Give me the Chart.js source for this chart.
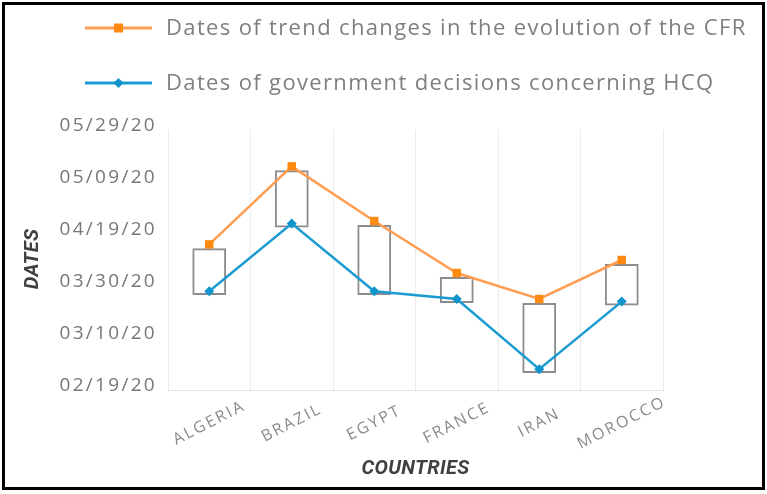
<!DOCTYPE html>
<html>
<head>
<meta charset="utf-8">
<script src="https://cdn.jsdelivr.net/npm/chart.js@4.4.0/dist/chart.umd.min.js"></script>
<style>
  html, body { margin: 0; padding: 0; background: #fff; }
  #wrap { position: relative; width: 767px; height: 494px; overflow: hidden; }
  #chart { position: absolute; left: 0; top: 0; }
  #frame { position: absolute; left: 2px; top: 2px; width: 763px; height: 488px;
           border: 3px solid #000; box-sizing: border-box; pointer-events: none; }
</style>
</head>
<body>
<div id="wrap">
  <canvas id="chart" width="767" height="494"></canvas>
  <div id="frame"></div>
</div>
<script>
// categories
const countries = ["ALGERIA", "BRAZIL", "EGYPT", "FRANCE", "IRAN", "MOROCCO"];

// series (dates)
const cfrTrendDates = ["2020-04-15", "2020-05-15", "2020-04-24", "2020-04-04", "2020-03-25", "2020-04-09"];
const hcqDecisionDates = ["2020-03-28", "2020-04-23", "2020-03-28", "2020-03-25", "2020-02-27", "2020-03-24"];

// the grey boxes between the two series
const boxStart = ["2020-03-26T12:00", "2020-04-21T12:00", "2020-03-26T12:00", "2020-03-23T12:00", "2020-02-25T12:00", "2020-03-22T12:00"];
const boxEnd = ["2020-04-13T12:00", "2020-05-13T12:00", "2020-04-22T12:00", "2020-04-02T12:00", "2020-03-23T12:00", "2020-04-07T12:00"];

// y axis ticks
const yTickDates = ["2020-02-19", "2020-03-10", "2020-03-30", "2020-04-19", "2020-05-09", "2020-05-29"];

const legendLabels = ["Dates of trend changes in the evolution of the CFR", "Dates of government decisions concerning HCQ"];
const xTitle = "COUNTRIES";
const yTitle = "DATES";

// date string -> ms (UTC so that DST never shifts a day)
function toMs(s) {
    return Date.parse(s.length > 10 ? s + ":00Z" : s + "T00:00:00Z");
}

function fmtDate(v) {
    const d = new Date(v);
    const p = n => String(n).padStart(2, "0");
    return p(d.getUTCMonth() + 1) + "/" + p(d.getUTCDate()) + "/" + p(d.getUTCFullYear() % 100);
}

const ORANGE_LINE = "#ff9d52";
const ORANGE_MARK = "#ff8a12";
const BLUE_LINE = "#1b9bd1";
const BLUE_MARK = "#1295cd";

// marker shapes shared by the legend
function drawMarker(ctx, style, x, y, color) {
    ctx.fillStyle = color;
    ctx.beginPath();
    if (style === "rect") {
        ctx.rect(x - 4.5, y - 4.5, 9, 9);
    } else {
        ctx.moveTo(x, y - 5);
        ctx.lineTo(x + 5, y);
        ctx.lineTo(x, y + 5);
        ctx.lineTo(x - 5, y);
        ctx.closePath();
    }
    ctx.fill();
}

// y tick labels are letter-spaced in the original
const spacing = {
    id: "spacing",
    beforeDraw(chart) { chart.ctx.letterSpacing = "2.3px"; },
    afterDatasetsDraw(chart) { chart.ctx.letterSpacing = "0px"; }
};

// legend, rotated country labels and axis titles
const extras = {
    id: "extras",
    afterDraw(chart) {
        const ctx = chart.ctx;
        const area = chart.chartArea;
        const x = chart.scales.x;

        ctx.save();

        // legend
        const marks = [
            { line: ORANGE_LINE, mark: ORANGE_MARK, style: "rect" },
            { line: BLUE_LINE, mark: BLUE_MARK, style: "rectRot" }
        ];
        ctx.font = '22px "Open Sans"';
        ctx.letterSpacing = "1.35px";
        ctx.textBaseline = "middle";
        ctx.textAlign = "left";
        legendLabels.forEach((txt, i) => {
            const y = 28 + i * 55;
            ctx.strokeStyle = marks[i].line;
            ctx.lineWidth = 3;
            ctx.beginPath();
            ctx.moveTo(85, y);
            ctx.lineTo(152, y);
            ctx.stroke();
            drawMarker(ctx, marks[i].style, 118.5, y, marks[i].mark);
            ctx.fillStyle = "#7f7f7f";
            ctx.fillText(txt, 166, y + 1);
        });

        // country labels, centred on the category and tilted
        ctx.font = '16px "Open Sans"';
        ctx.letterSpacing = "2.2px";
        ctx.fillStyle = "#8a8a8a";
        ctx.textAlign = "center";
        x.ticks.forEach((t, i) => {
            ctx.save();
            ctx.translate(x.getPixelForTick(i), area.bottom + 33);
            ctx.rotate(-27 * Math.PI / 180);
            ctx.fillText(countries[i], 0, 0);
            ctx.restore();
        });

        // axis titles
        ctx.letterSpacing = "0.3px";
        ctx.font = 'italic bold 20px Roboto';
        ctx.fillStyle = "#404040";
        ctx.fillText(xTitle, (area.left + area.right) / 2, 469);
        ctx.save();
        ctx.translate(33, (area.top + area.bottom) / 2 - 1);
        ctx.rotate(-Math.PI / 2);
        ctx.fillText(yTitle, 0, 0);
        ctx.restore();

        ctx.restore();
    }
};

new Chart(document.getElementById("chart"), {
    type: "bar",
    data: {
        labels: countries,
        datasets: [
            {
                type: "line",
                label: legendLabels[0],
                data: cfrTrendDates.map(toMs),
                borderColor: ORANGE_LINE,
                borderWidth: 2.5,
                pointStyle: "rect",
                pointRadius: 6,
                pointBorderWidth: 0,
                pointBackgroundColor: ORANGE_MARK,
                tension: 0,
                order: 0
            },
            {
                type: "line",
                label: legendLabels[1],
                data: hcqDecisionDates.map(toMs),
                borderColor: BLUE_LINE,
                borderWidth: 2.5,
                pointStyle: "rectRot",
                pointRadius: 5,
                pointBorderWidth: 0,
                pointBackgroundColor: BLUE_MARK,
                tension: 0,
                order: 1
            },
            {
                label: "range",
                data: boxStart.map((s, i) => [toMs(s), toMs(boxEnd[i])]),
                backgroundColor: "rgba(0,0,0,0)",
                borderColor: "#8c8c8c",
                borderWidth: 2,
                borderSkipped: false,
                barPercentage: 0.41,
                categoryPercentage: 1,
                order: 2
            }
        ]
    },
    options: {
        responsive: false,
        animation: false,
        layout: { padding: { top: 130, right: 104, bottom: 0, left: 0 } },
        plugins: {
            legend: { display: false },
            tooltip: { enabled: false }
        },
        scales: {
            x: {
                offset: true,
                grid: { display: true, offset: true, color: "#ececec", drawTicks: false },
                border: { display: true, color: "#e3e3e3" },
                ticks: { display: false },
                afterFit: s => { s.height = 104; }
            },
            y: {
                type: "linear",
                min: toMs(yTickDates[0]),
                max: toMs(yTickDates[yTickDates.length - 1]),
                grid: { display: false, drawTicks: false },
                border: { display: false },
                afterBuildTicks: s => { s.ticks = yTickDates.map(d => ({ value: toMs(d) })); },
                ticks: {
                    padding: 11,
                    labelOffset: -4,
                    color: "#777777",
                    font: { family: "'Open Sans'", size: 19 },
                    callback: v => fmtDate(v)
                },
                afterFit: s => { s.width = 168; }
            }
        }
    },
    plugins: [spacing, extras]
});
</script>
</body>
</html>
